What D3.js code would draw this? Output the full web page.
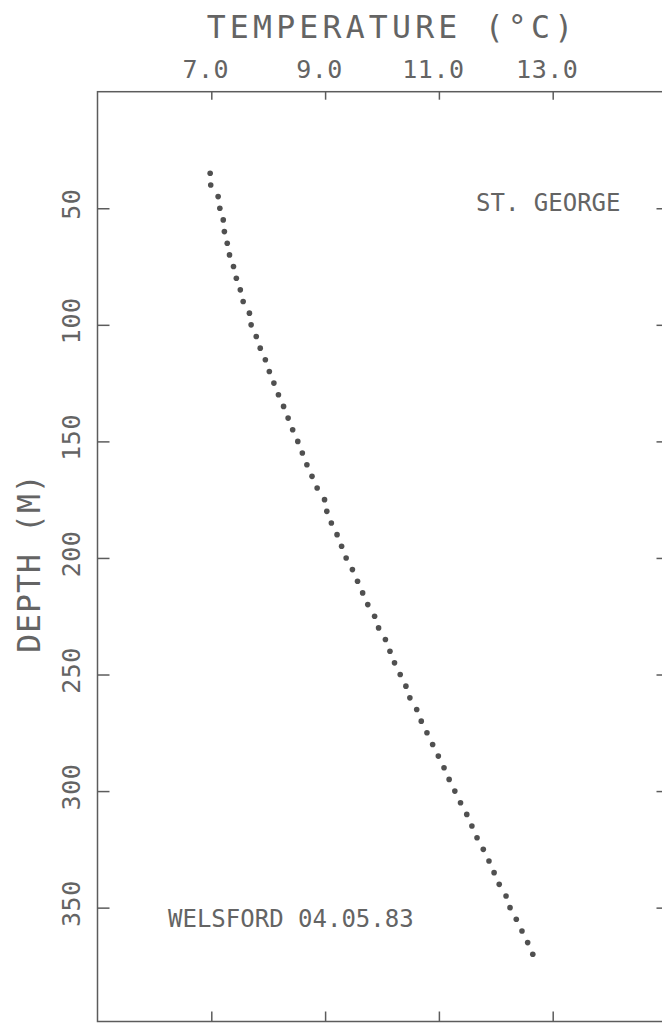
<!DOCTYPE html>
<html>
<head>
<meta charset="utf-8">
<script src="https://cdn.jsdelivr.net/npm/d3@7"></script>
<style>
  html, body { margin: 0; padding: 0; background: #fff; }
  svg text { font-family: "DejaVu Sans Mono", "Liberation Mono", monospace; fill: #646464; }
</style>
</head>
<body>
<div id="chart"></div>
<script>
// Temperature profile, St. George (Welsford 04.05.83)
const depths = [35, 40, 45, 50, 55, 60, 65, 70, 75, 80, 85, 90, 95, 100,
    105, 110, 115, 120, 125, 130, 135, 140, 145, 150, 155, 160, 165, 170,
    175, 180, 185, 190, 195, 200, 205, 210, 215, 220, 225, 230, 235,
    240, 245, 250, 255, 260, 265, 270, 275, 280, 285, 290, 295, 300, 305,
    310, 315, 320, 325, 330, 335, 340, 345, 350, 355, 360, 365, 370];
const temps = [6.98, 6.99, 7.12, 7.15, 7.21, 7.23, 7.28, 7.32, 7.39, 7.44, 7.51, 7.56, 7.67, 7.70,
    7.79, 7.86, 7.95, 8.02, 8.10, 8.18, 8.27, 8.35, 8.43, 8.52, 8.60, 8.68, 8.77, 8.86,
    8.99, 9.03, 9.11, 9.21, 9.29, 9.37, 9.48, 9.57, 9.66, 9.75, 9.87, 9.94, 10.06,
    10.14, 10.22, 10.32, 10.42, 10.49, 10.61, 10.69, 10.79, 10.89, 10.99, 11.09, 11.18, 11.28, 11.38,
    11.49, 11.58, 11.67, 11.78, 11.88, 11.97, 12.06, 12.18, 12.25, 12.36, 12.46, 12.56, 12.65];

const tempTicks = [7, 9, 11, 13];
const depthTicks = [50, 100, 150, 200, 250, 300, 350];
const xTitle = "TEMPERATURE (°C)";
const yTitle = "DEPTH (M)";
const station = "ST. GEORGE";
const cruise = "WELSFORD 04.05.83";

const width = 662, height = 1023;
const frame = { left: 97.5, right: 666.5, top: 91.7, bottom: 1021.5 };

const svg = d3.select("#chart").append("svg")
    .attr("width", width)
    .attr("height", height);

const x = d3.scaleLinear().domain([5, 15]).range([frame.left, frame.right]);
const y = d3.scaleLinear().domain([0, 400]).range([frame.top, 1024.2]);

const ink = "#5c5c5c";

// frame
svg.append("rect")
    .attr("x", frame.left)
    .attr("y", frame.top)
    .attr("width", frame.right - frame.left)
    .attr("height", frame.bottom - frame.top)
    .attr("fill", "none")
    .attr("stroke", ink)
    .attr("stroke-width", 1.5);

// ticks pointing into the plot
function styleAxis(g) {
    g.select(".domain").remove();
    g.selectAll(".tick line").attr("stroke", ink).attr("stroke-width", 1.5);
}

svg.append("g")
    .attr("transform", `translate(0,${frame.top})`)
    .call(d3.axisTop(x).tickValues(tempTicks).tickSize(-8).tickPadding(14)
        .tickFormat(d3.format(".1f")))
    .call(styleAxis)
    .call(g => g.selectAll(".tick text")
        .attr("dx", -6)
        .style("font-size", "25px")
        .style("letter-spacing", "0.5px")
        .attr("fill", null));

svg.append("g")
    .attr("transform", `translate(0,${frame.bottom})`)
    .call(d3.axisBottom(x).tickValues(tempTicks).tickSize(-10).tickFormat(""))
    .call(styleAxis);

svg.append("g")
    .attr("transform", `translate(${frame.left},0)`)
    .call(d3.axisLeft(y).tickValues(depthTicks).tickSize(-12).tickFormat(""))
    .call(styleAxis);

svg.append("g")
    .attr("transform", `translate(${frame.right},0)`)
    .call(d3.axisRight(y).tickValues(depthTicks).tickSize(-10).tickFormat(""))
    .call(styleAxis);

// rotated depth labels
svg.append("g").selectAll("text")
    .data(depthTicks)
    .join("text")
    .attr("transform", d => `translate(80,${y(d) - 4}) rotate(-90)`)
    .attr("text-anchor", "middle")
    .style("font-size", "25px")
    .style("letter-spacing", "0.5px")
    .text(d => d);

// axis titles
svg.append("text")
    .attr("x", 392)
    .attr("y", 38.3)
    .attr("text-anchor", "middle")
    .style("font-size", "31.5px")
    .style("letter-spacing", "4.2px")
    .text(xTitle);

svg.append("text")
    .attr("transform", `translate(40,563) rotate(-90)`)
    .attr("text-anchor", "middle")
    .style("font-size", "31.5px")
    .style("letter-spacing", "1px")
    .text(yTitle);

// annotations
svg.append("text")
    .attr("x", 476)
    .attr("y", 210.7)
    .style("font-size", "24px")
    .text(station);

svg.append("text")
    .attr("x", 168)
    .attr("y", 926.7)
    .style("font-size", "24px")
    .text(cruise);

// profile dots
svg.append("g").selectAll("circle")
    .data(depths.map((d, i) => ({ depth: d, temp: temps[i] })))
    .join("circle")
    .attr("cx", d => x(d.temp))
    .attr("cy", d => y(d.depth))
    .attr("r", 2.8)
    .attr("fill", "#505050");
</script>
</body>
</html>
